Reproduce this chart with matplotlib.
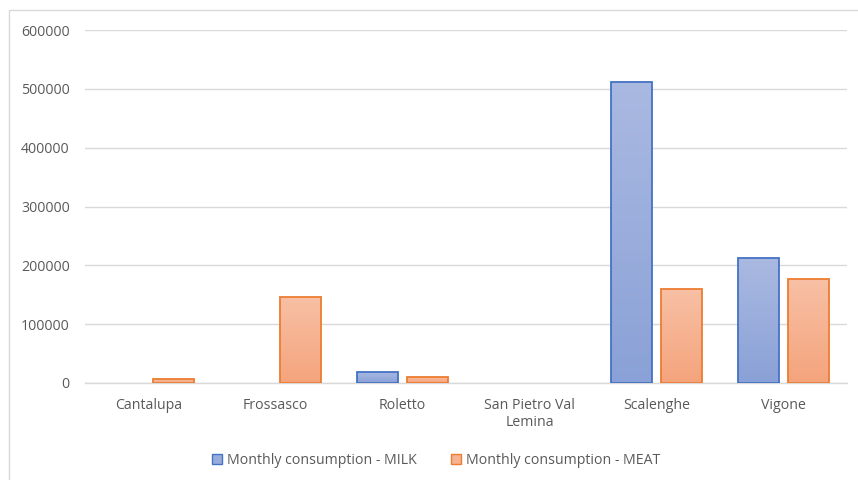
import numpy as np
import matplotlib
matplotlib.use("Agg")
import matplotlib.pyplot as plt
from matplotlib.patches import Patch, Rectangle
from matplotlib.colors import LinearSegmentedColormap

towns = ["Cantalupa", "Frossasco", "Roletto", "San Pietro Val\nLemina", "Scalenghe", "Vigone"]
milk = [0, 0, 19200, 0, 512000, 212500]
meat = [6300, 146700, 10700, 0, 160000, 176300]
series_names = ["Monthly consumption - MILK", "Monthly consumption - MEAT"]
yticks = [0, 100000, 200000, 300000, 400000, 500000, 600000]

BLUE_EDGE = "#4472C4"
ORANGE_EDGE = "#ED7D31"
blue_grad = LinearSegmentedColormap.from_list("blue_grad", ["#8AA1D7", "#AAB9E1"])
orange_grad = LinearSegmentedColormap.from_list("orange_grad", ["#F4A47C", "#F8C0A5"])
TEXT = "#595959"
GRID = "#D9D9D9"

plt.rcParams["font.family"] = ["Open Sans", "DejaVu Sans"]

fig = plt.figure(figsize=(8.58, 4.8), dpi=100)
fig.patches.append(Rectangle((8.5 / 858, -0.1), 1.2, 470 / 480 + 0.1 - 0.0005,
                             transform=fig.transFigure, fill=False,
                             edgecolor=GRID, linewidth=1.0, zorder=0))
ax = fig.add_axes([85 / 858, 97 / 480, 762 / 858, 353 / 480])

x = np.arange(len(towns))
width = 0.32
offset = 0.195


def gradient_bars(xpos, values, cmap, edge):
    bars = ax.bar(xpos, values, width, facecolor="none", edgecolor=edge,
                  linewidth=1.3, zorder=3)
    grad = np.linspace(0, 1, 256).reshape(-1, 1)
    for b in bars:
        h = b.get_height()
        if h <= 0:
            # nothing to show for an empty value
            b.set_linewidth(0)
            continue
        x0 = b.get_x()
        im = ax.imshow(grad, cmap=cmap, origin="lower", aspect="auto",
                       extent=(x0, x0 + b.get_width(), 0, h), zorder=2)
        im.set_clip_path(b)
    return bars


gradient_bars(x - offset, milk, blue_grad, BLUE_EDGE)
gradient_bars(x + offset, meat, orange_grad, ORANGE_EDGE)

ax.set_xlim(-0.5, len(towns) - 0.5)
ax.set_ylim(0, 600000)
ax.set_yticks(yticks)
ax.set_yticklabels([str(v) for v in yticks])
ax.set_xticks(x)
ax.set_xticklabels(towns)
ax.yaxis.grid(True, color=GRID, linewidth=1.0, zorder=0)
ax.set_axisbelow(True)
for s in ["top", "right", "left"]:
    ax.spines[s].set_visible(False)
ax.spines["bottom"].set_color(GRID)
ax.spines["bottom"].set_linewidth(1.0)
ax.tick_params(axis="both", length=0, colors=TEXT, labelsize=10.2)
ax.tick_params(axis="x", pad=11)
ax.tick_params(axis="y", pad=11)

handles = [Patch(facecolor="#98ACDC", edgecolor=BLUE_EDGE, linewidth=1.0),
           Patch(facecolor="#F6B291", edgecolor=ORANGE_EDGE, linewidth=1.0)]
leg = fig.legend(handles, series_names, loc="center", ncol=2,
                 bbox_to_anchor=(436 / 858, 1 - 460 / 480), frameon=False,
                 fontsize=10.2, handlelength=0.7, handleheight=0.7,
                 handletextpad=0.35, columnspacing=2.4)
for t in leg.get_texts():
    t.set_color(TEXT)

fig.savefig("out.png", dpi=100)
